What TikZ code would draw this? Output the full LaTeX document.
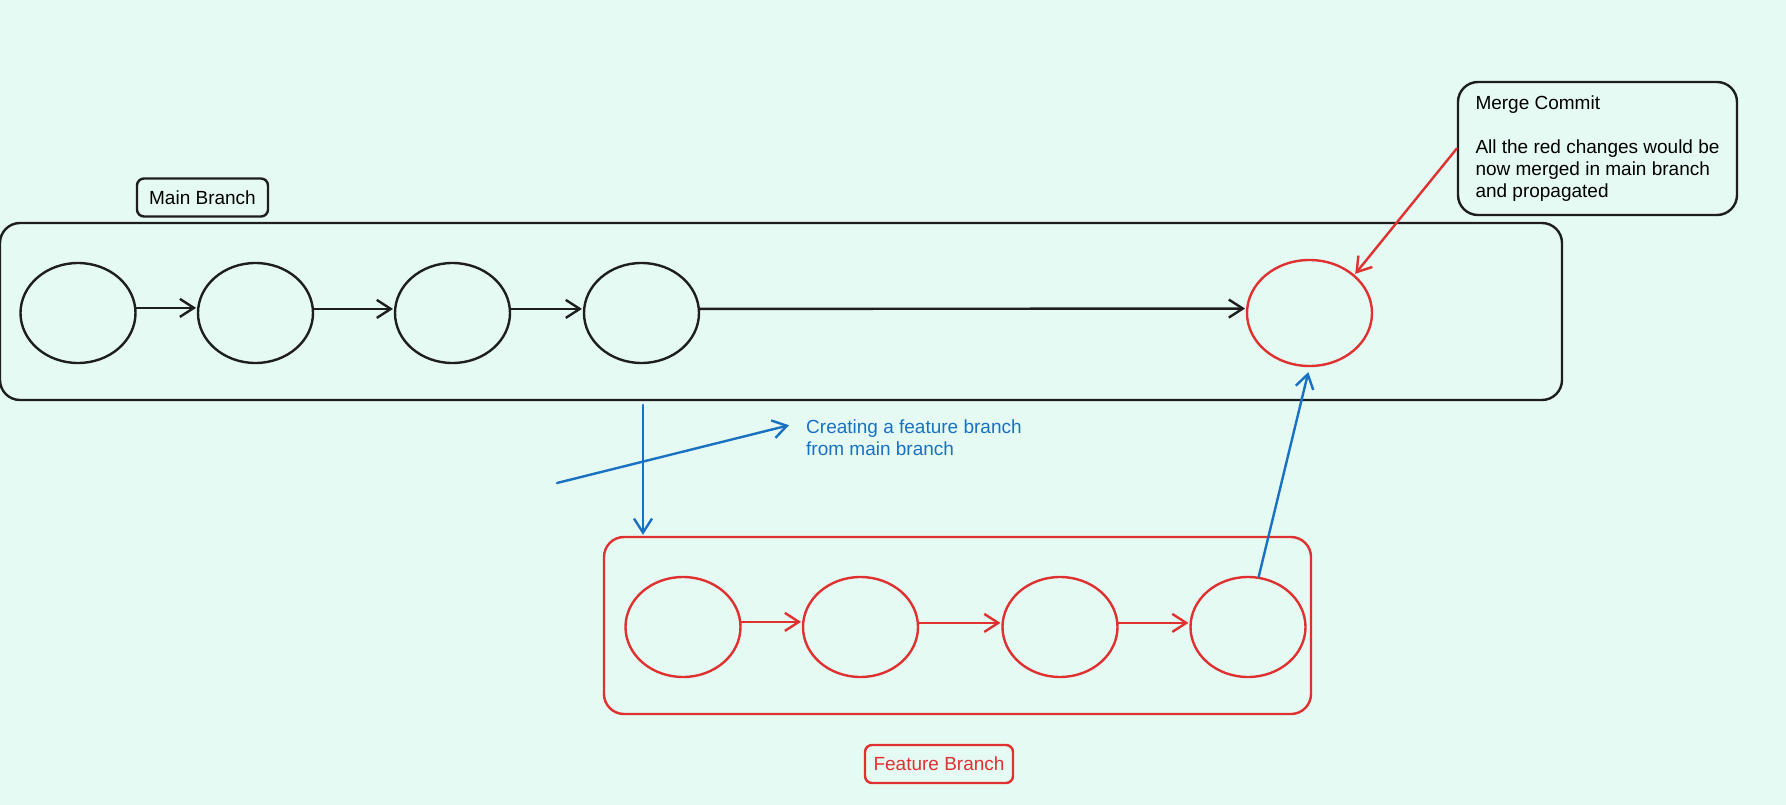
\documentclass[tikz,border=0pt]{standalone}
\usepackage{fontspec}
\setmainfont{Liberation Sans}
\usetikzlibrary{arrows.meta, shapes.geometric}

\definecolor{canvas}{HTML}{E5FAF3}
\definecolor{inkblack}{HTML}{1E1E1E}
\definecolor{inkred}{HTML}{E03131}
\definecolor{inkblue}{HTML}{1971C2}

\begin{document}
\begin{tikzpicture}[
		x = 1pt, y = -1pt, % pixel grid, y pointing down
		> = {Straight Barb[length=14pt, width=18pt]}, % open arrow head
		shorten > = 1pt, % don't touch arrow head to node
		line width = 2.4pt,
		line cap = round, line join = round,
		font = \fontsize{19}{22}\selectfont
		]
		
		\tikzstyle{commit}=[
		ellipse,
		draw = inkblack,
		minimum width = 115pt,
		minimum height = 100pt,
		inner sep = 0pt
		]
		\tikzstyle{redcommit}=[commit, draw = inkred]
		\tikzstyle{branch}=[draw = inkblack, rounded corners = 20pt, inner sep = 0pt]
		\tikzstyle{tag}=[draw = inkblack, rounded corners = 7pt, inner sep = 0pt, minimum height = 38pt]
		
		% canvas
		\fill[canvas] (0,0) rectangle (1786,805);
		\useasboundingbox (0,0) rectangle (1786,805);
		
		% main branch
		\node[branch, minimum width = 1562pt, minimum height = 177pt] (mainbr) at (781,311.5) {};
		\node[tag, minimum width = 131pt] (mainlbl) at (202.5,197.5) {Main Branch};
		
		\node[commit] (c1) at (78,313) {};
		\node[commit] (c2) [right of=c1, node distance = 177.5pt] {};
		\node[commit] (c3) [right of=c2, node distance = 197pt] {};
		\node[commit] (c4) [right of=c3, node distance = 189pt] {};
		\node[redcommit, minimum width = 125pt, minimum height = 106pt] (c5) [right of=c4, node distance = 668pt] {};
		
		\path[->, inkblack] (c1.5) edge (c2.175);
		\path[->, inkblack] (c2.4) edge (c3.176);
		\path[->, inkblack] (c3.4) edge (c4.176);
		\path[->, inkblack] (c4.4) edge (c5.176);
		
		% feature branch
		\node[branch, draw = inkred, minimum width = 707pt, minimum height = 177pt] (featbr) at (957.5,625.5) {};
		\node[tag, draw = inkred, text = inkred, minimum width = 148pt] (featlbl) at (939,764) {Feature Branch};
		
		\node[redcommit] (f1) at (683,627) {};
		\node[redcommit] (f2) [right of=f1, node distance = 177.5pt] {};
		\node[redcommit] (f3) [right of=f2, node distance = 199.5pt] {};
		\node[redcommit] (f4) [right of=f3, node distance = 188pt] {};
		
		\path[->, inkred] (f1.5) edge (f2.175);
		\path[->, inkred] (f2.4) edge (f3.176);
		\path[->, inkred] (f3.4) edge (f4.176);
		
		% branching off
		\coordinate (split) at (643,405);
		\draw[->, inkblue] (split) -- (split |- featbr.north);
		
		\node[anchor = north west, inner sep = 0pt, align = left, text = inkblue] (note) at (805,419)
		{Creating a feature branch\\from main branch};
		\coordinate (pointer) at (557,483);
		\coordinate (aim) at (790,425);
		\draw[->, inkblue] (pointer) -- (aim);
		
		% merging back
		\draw[->, inkblue, shorten > = 5pt] (f4.78) -- (c5.south);
		
		\node[branch, align = left, inner xsep = 17pt, minimum width = 279pt, minimum height = 133pt] (merge) at (1597.5,148.5)
		{Merge Commit\\[22pt]All the red changes would be\\now merged in main branch\\and propagated};
		\draw[->, inkred] (merge.west) -- (c5.north east);
		
\end{tikzpicture}
\end{document}
